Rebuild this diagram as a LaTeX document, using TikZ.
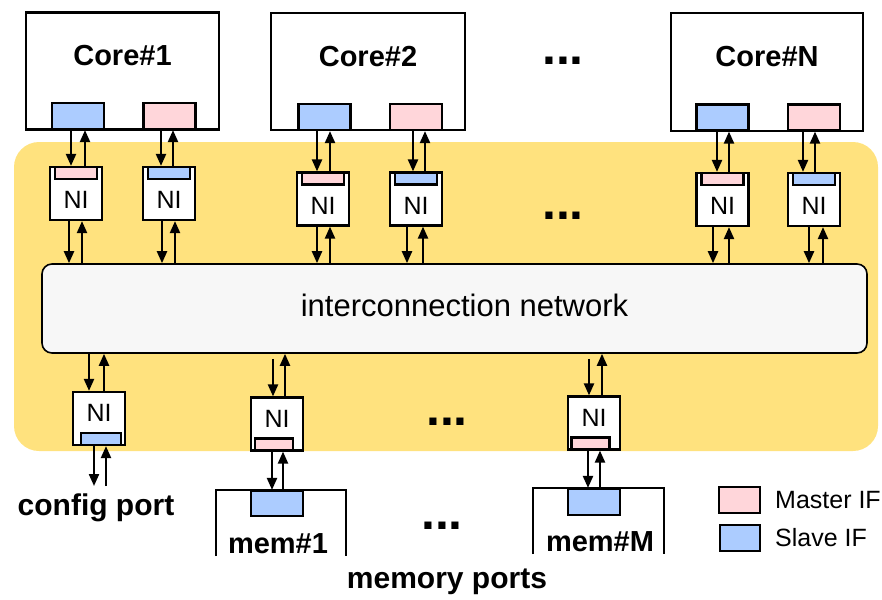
\documentclass[tikz,border=0pt]{standalone}
\usepackage{fontspec}
\setmainfont{Liberation Sans}
\usetikzlibrary{arrows.meta,positioning}

\definecolor{nocyellow}{RGB}{255,226,126}
\definecolor{masterpink}{RGB}{255,214,218}
\definecolor{slaveblue}{RGB}{172,204,255}
\definecolor{netgray}{RGB}{247,247,247}

\newcommand{\fsz}[1]{\fontsize{#1}{#1}\selectfont}
% down arrow from #1 to #2 at x=#3, up arrow from #2 to #1 at x=#4
\newcommand{\updown}[4]{%
  \draw[arr] (#3,0 |- #1.south) -- (#3,0 |- #2.north);
  \draw[arr] (#4,0 |- #2.north) -- (#4,0 |- #1.south);}

\begin{document}
\begin{tikzpicture}[x=1pt, y=-1pt, line width=2.2pt,
  core/.style={draw, minimum width=193pt, minimum height=117pt},
  ni/.style={draw, fill=white, minimum width=52pt, minimum height=53pt, inner sep=0pt, font=\fsz{25}},
  nitop/.style={ni, text height=30pt, text depth=0pt},
  nibot/.style={ni, text height=18pt, text depth=12pt},
  mif/.style={draw, fill=masterpink, inner sep=0pt},
  sif/.style={draw, fill=slaveblue, inner sep=0pt},
  port/.style={minimum width=52pt, minimum height=26pt},
  bar/.style={minimum width=42pt, minimum height=12pt},
  big/.style={font=\bfseries\fsz{29}, anchor=base, inner sep=0pt},
  dots/.style={font=\bfseries\fsz{50}, anchor=base, inner sep=0pt},
  arr/.style={-{Triangle[length=12pt,width=10pt]}}]
  \useasboundingbox (0,0) rectangle (882,599);
  % NoC area
  \node[fill=nocyellow, rounded corners=25pt, minimum width=864pt, minimum height=309pt] (noc) at (446,296.5) {};
  \node[draw, fill=netgray, rounded corners=10pt, line width=1.6pt, minimum width=825pt, minimum height=89pt] (icn) at (454.5,308.5) {};
  \node[font=\fsz{31}, anchor=base, inner sep=0pt] (icnt) at ([xshift=10pt, yshift=-7.5pt]icn.center) {interconnection network};
  % cores
  \node[core] (c1) at (122.5,71) {};
  \node[core, minimum width=194pt] (c2) at (368,71.5) {};
  \node[core, minimum width=192pt, minimum height=118pt] (cN) at (767,72) {};
  \node[big] (c1t) at ([yshift=5pt]c1.center) {Core\#1};
  \node[big] (c2t) at ([yshift=5pt]c2.center) {Core\#2};
  \node[big] (cNt) at ([yshift=5pt]cN.center) {Core\#N};
  \node[sif, port] (c1s) at (78,116) {};
  \node[mif, port] (c1m) at (169.5,116) {};
  \node[sif, port] (c2s) at (324.5,117) {};
  \node[mif, port] (c2m) at (416,117) {};
  \node[sif, port] (cNs) at (722.5,117.5) {};
  \node[mif, port] (cNm) at (814,117.5) {};
  \node[dots] (d1) at (563,65) {...};
  % NIs on the core side
  \node[nitop] (n11) at (76,193.5) {NI};
  \node[nitop] (n12) at (169,193.5) {NI};
  \node[nitop] (n21) at (323,199) {NI};
  \node[nitop] (n22) at (416,199) {NI};
  \node[nitop] (nN1) at (722.5,199.5) {NI};
  \node[nitop] (nN2) at (814,199.5) {NI};
  \node[mif, bar, anchor=north] (n11b) at (n11.north) {};
  \node[sif, bar, anchor=north] (n12b) at (n12.north) {};
  \node[mif, bar, anchor=north] (n21b) at (n21.north) {};
  \node[sif, bar, anchor=north] (n22b) at (n22.north) {};
  \node[mif, bar, anchor=north] (nN1b) at (nN1.north) {};
  \node[sif, bar, anchor=north] (nN2b) at (nN2.north) {};
  \node[dots] (d2) at (563,219) {...};
  \updown{c1s}{n11}{71}{85}
  \updown{n11}{icn}{69}{82}
  \updown{c1m}{n12}{161}{173}
  \updown{n12}{icn}{162}{175}
  \updown{c2s}{n21}{317}{330}
  \updown{n21}{icn}{317}{330}
  \updown{c2m}{n22}{413}{425}
  \updown{n22}{icn}{407}{423}
  \updown{cNs}{nN1}{717}{729}
  \updown{nN1}{icn}{713}{729}
  \updown{cNm}{nN2}{803}{815}
  \updown{nN2}{icn}{809}{823}
  % NIs on the memory side
  \node[nibot] (ncfg) at (99,418.5) {NI};
  \node[nibot] (nm1) at (277,424) {NI};
  \node[nibot] (nmM) at (594,423) {NI};
  \node[sif, bar, minimum width=40pt, anchor=south] (ncfgb) at ([xshift=2pt]ncfg.south) {};
  \node[mif, bar, minimum width=38pt, anchor=south] (nm1b) at ([xshift=-3pt]nm1.south) {};
  \node[mif, bar, minimum width=38pt, anchor=south] (nmMb) at ([xshift=-3.5pt]nmM.south) {};
  \node[dots] (d3) at (447,425) {...};
  \updown{icn}{ncfg}{89}{104}
  \draw[arr, shorten <=5pt] (273,0 |- icn.south) -- (273,0 |- nm1.north);
  \draw[arr] (285,0 |- nm1.north) -- (285,0 |- icn.south);
  \draw[arr, shorten <=5pt] (589,0 |- icn.south) -- (589,0 |- nmM.north);
  \draw[arr] (602,0 |- nmM.north) -- (602,0 |- icn.south);
  % config port
  \coordinate (cfgout) at (100,486);
  \draw[arr] (94,0 |- ncfg.south) -- (94,0 |- cfgout);
  \draw[arr] (106,0 |- cfgout) -- (106,0 |- ncfg.south);
  \node[big, font=\bfseries\fsz{30}] (cfgt) at (96,515) {config port};
  % memories
  \node[minimum width=128pt, minimum height=64pt] (m1) at (281,523) {};
  \node[minimum width=129pt, minimum height=64pt] (mM) at (598.5,521) {};
  \draw (m1.south west) -- (m1.north west) -- (m1.north east) -- (m1.south east);
  \draw (mM.south west) -- (mM.north west) -- (mM.north east) -- (mM.south east);
  \node[sif, port, minimum height=25pt, anchor=north] (m1s) at (277,0 |- m1.north) {};
  \node[sif, port, anchor=north] (mMs) at (594,0 |- mM.north) {};
  \node[big] (m1t) at ([xshift=-3pt, yshift=3pt]m1.south) {mem\#1};
  \node[big] (mMt) at ([xshift=1.5pt, yshift=3pt]mM.south) {mem\#M};
  \node[dots] (d4) at (442,529) {...};
  \updown{nm1}{m1s}{272}{283}
  \updown{nmM}{mMs}{588}{600}
  \node[big, font=\bfseries\fsz{30}] (memt) at (447,588) {memory ports};
  % legend
  \node[mif, minimum width=41pt, minimum height=26pt] (lgm) at (739.5,500) {};
  \node[sif, minimum width=40pt, minimum height=26pt] (lgs) at (740,538) {};
  \node[font=\fsz{25}, inner sep=0pt, right=13pt of lgm] (lgmt) {Master IF};
  \node[font=\fsz{25}, inner sep=0pt, right=13pt of lgs] (lgst) {Slave IF};
\end{tikzpicture}
\end{document}
